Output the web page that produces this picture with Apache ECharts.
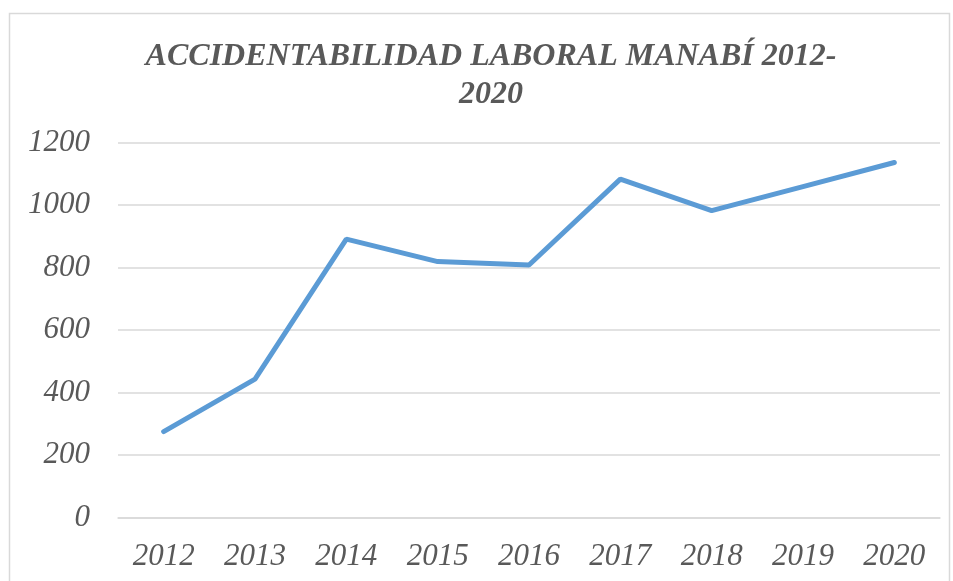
<!DOCTYPE html>
<html>
<head>
<meta charset="utf-8">
<script src="https://cdn.jsdelivr.net/npm/echarts@6/dist/echarts.min.js"></script>
<style>
	html, body { margin: 0; padding: 0; background: #fff; }
	#chart { width: 953px; height: 581px; }
</style>
</head>
<body>
<div id="chart"></div>
<script>
	// datos
	const years = ['2012', '2013', '2014', '2015', '2016', '2017', '2018', '2019', '2020']
	const accidentes = [275, 443, 891, 819, 808, 1083, 982, 1059, 1136]
	const yTicks = { min: 0, max: 1200, step: 200 }

	const gray = '#595959'
	const font = "'Liberation Serif', 'Times New Roman', serif"

	const myChart = echarts.init(document.getElementById('chart'), null, { renderer: 'canvas' })
	myChart.setOption({
		animation: false,
		backgroundColor: '#fff',
		title: {
			text: 'ACCIDENTABILIDAD LABORAL MANABÍ 2012-\n2020',
			left: 486,
			top: 33,
			textAlign: 'center',
			textStyle: {
				fontFamily: font,
				fontStyle: 'italic',
				fontWeight: 'bold',
				fontSize: 32,
				lineHeight: 38,
				color: gray
			}
		},
		graphic: [{
			type: 'rect',
			shape: { x: 9.5, y: 13.5, width: 940, height: 600 },
			style: { fill: 'none', stroke: '#d9d9d9', lineWidth: 1.5 },
			silent: true
		}],
		grid: { left: 118, right: 13, top: 142.5, bottom: 63.5 },
		xAxis: {
			type: 'category',
			data: years,
			boundaryGap: true,
			axisLine: { show: true, lineStyle: { color: '#d9d9d9', width: 1.5 } },
			axisTick: { show: false },
			axisLabel: {
				margin: 24,
				fontFamily: font,
				fontStyle: 'italic',
				fontSize: 31,
				color: gray
			}
		},
		yAxis: {
			type: 'value',
			min: yTicks.min,
			max: yTicks.max,
			interval: yTicks.step,
			axisLine: { show: false },
			axisTick: { show: false },
			splitLine: { lineStyle: { color: '#d9d9d9', width: 1.5 } },
			axisLabel: {
				margin: 28,
				fontFamily: font,
				fontStyle: 'italic',
				fontSize: 31,
				color: gray,
				formatter: (v) => String(v)
			}
		},
		series: [{
			type: 'line',
			data: accidentes,
			symbol: 'none',
			smooth: false,
			lineStyle: { color: '#5b9bd5', width: 5, cap: 'round' }
		}]
	})
</script>
</body>
</html>
